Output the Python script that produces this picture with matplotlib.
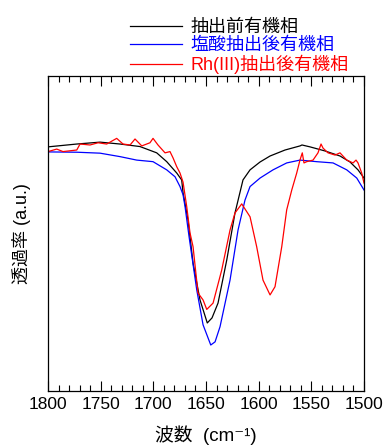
import matplotlib
matplotlib.use("Agg")
import matplotlib.pyplot as plt
from matplotlib.ticker import MultipleLocator

plt.rcParams['font.family'] = ['Liberation Sans', 'Noto Sans CJK JP', 'DejaVu Sans']

# 抽出前有機相
black_w = [1800, 1772.7, 1750.6, 1731.6, 1712.7, 1696.8, 1687.3, 1677.8, 1673.1, 1671.8,
           1667.1, 1662.3, 1655.7, 1648.8, 1644.3, 1638.6, 1630.3, 1622.5, 1614.9, 1608.2,
           1598.7, 1589.2, 1575.0, 1560.8, 1558.9, 1551.3, 1537.0, 1522.8, 1513.3, 1505.7, 1500]
black_t = [77.5, 78.4, 79.0, 78.4, 77.6, 75.6, 72.8, 69.2, 67.0, 62.9,
           54.3, 40.6, 28.9, 21.6, 23.2, 27.9, 41.6, 56.5, 67.0, 70.2,
           72.7, 74.6, 76.5, 77.8, 78.1, 77.5, 76.2, 74.6, 72.7, 70.2, 67.6]

# 塩酸抽出後有機相
blue_w = [1800, 1772.7, 1750.6, 1731.6, 1715.8, 1700.3, 1687.3, 1679.4, 1674.7, 1671.8,
          1669.9, 1666.1, 1658.8, 1652.8, 1645.5, 1641.4, 1636.7, 1627.2, 1619.6, 1613.0,
          1608.2, 1598.7, 1586.4, 1573.4, 1560.8, 1544.9, 1529.4, 1516.4, 1506.9, 1500]
blue_t = [75.9, 75.8, 75.5, 74.4, 73.3, 72.8, 70.2, 68.0, 64.9, 62.3,
          58.5, 49.0, 32.1, 21.0, 14.6, 15.6, 20.4, 35.2, 51.1, 60.6,
          64.9, 67.6, 70.2, 72.4, 73.3, 72.8, 72.4, 70.2, 67.6, 63.8]

# Rh(III)抽出後有機相
red_w = [1800, 1791.7, 1785.8, 1772.7, 1769.6, 1760.1, 1752.5, 1744.3, 1734.8, 1728.8,
         1722.1, 1717.4, 1711.0, 1703.2, 1700.3, 1695.6, 1688.9, 1684.2, 1681.3, 1677.8,
         1674.7, 1671.8, 1668.3, 1665.2, 1662.3, 1657.6, 1652.8, 1649.3, 1643.3, 1635.1,
         1627.2, 1622.5, 1616.1, 1608.2, 1601.9, 1595.9, 1589.2, 1584.5, 1578.1, 1573.4,
         1568.6, 1563.9, 1560.8, 1558.6, 1557.0, 1554.4, 1548.4, 1543.7, 1540.8, 1538.9,
         1534.2, 1527.5, 1522.8, 1516.4, 1510.4, 1507.6, 1505.7, 1502.2, 1500]
red_t = [76.0, 76.8, 76.0, 76.5, 78.4, 78.1, 78.8, 78.4, 80.2, 78.4,
         78.1, 80.0, 77.8, 78.8, 80.2, 78.1, 75.6, 76.0, 74.0, 71.2,
         69.2, 66.3, 58.5, 50.2, 45.8, 31.1, 28.9, 25.9, 27.9, 38.4,
         51.1, 56.5, 59.4, 55.3, 45.8, 35.2, 30.5, 33.1, 45.8, 57.5,
         63.8, 69.2, 73.3, 75.6, 72.4, 72.8, 73.3, 75.6, 78.4, 77.1,
         75.6, 74.9, 75.6, 73.3, 72.4, 73.3, 72.4, 69.2, 66.0]

labels = ["抽出前有機相", "塩酸抽出後有機相", "Rh(III)抽出後有機相"]
colors = ["black", "#0000ff", "#ff0000"]

fig = plt.figure(figsize=(3.85, 4.47), dpi=100)
ax = fig.add_axes([0.1247, 0.1253, 0.8208, 0.7047])

lines = []
for w, t, c, lab in zip([black_w, blue_w, red_w], [black_t, blue_t, red_t], colors, labels):
    ln, = ax.plot(w, t, color=c, lw=0.9, label=lab)
    lines.append(ln)

ax.set_xlim(1800, 1500)
ax.set_ylim(0, 100)
ax.set_yticks([])
ax.xaxis.set_major_locator(MultipleLocator(50))
ax.xaxis.set_minor_locator(MultipleLocator(10))
ax.tick_params(axis='x', which='both', direction='in', top=True, labelsize=12.5, pad=4)
ax.tick_params(axis='x', which='major', length=7, width=0.8)
ax.tick_params(axis='x', which='minor', length=4, width=0.8)
for s in ax.spines.values():
    s.set_linewidth(0.9)

ax.set_xlabel("波数  (cm⁻¹)", fontsize=13.5, labelpad=10)
ax.set_ylabel("透過率 (a.u.)", fontsize=13, labelpad=12)

leg = fig.legend(handles=lines, loc='upper left', bbox_to_anchor=(0.318, 0.974),
                 frameon=False, fontsize=13, handlelength=2.9, handletextpad=0.45,
                 labelspacing=0.06, labelcolor='linecolor', borderaxespad=0)

fig.savefig("out.png", dpi=100)
